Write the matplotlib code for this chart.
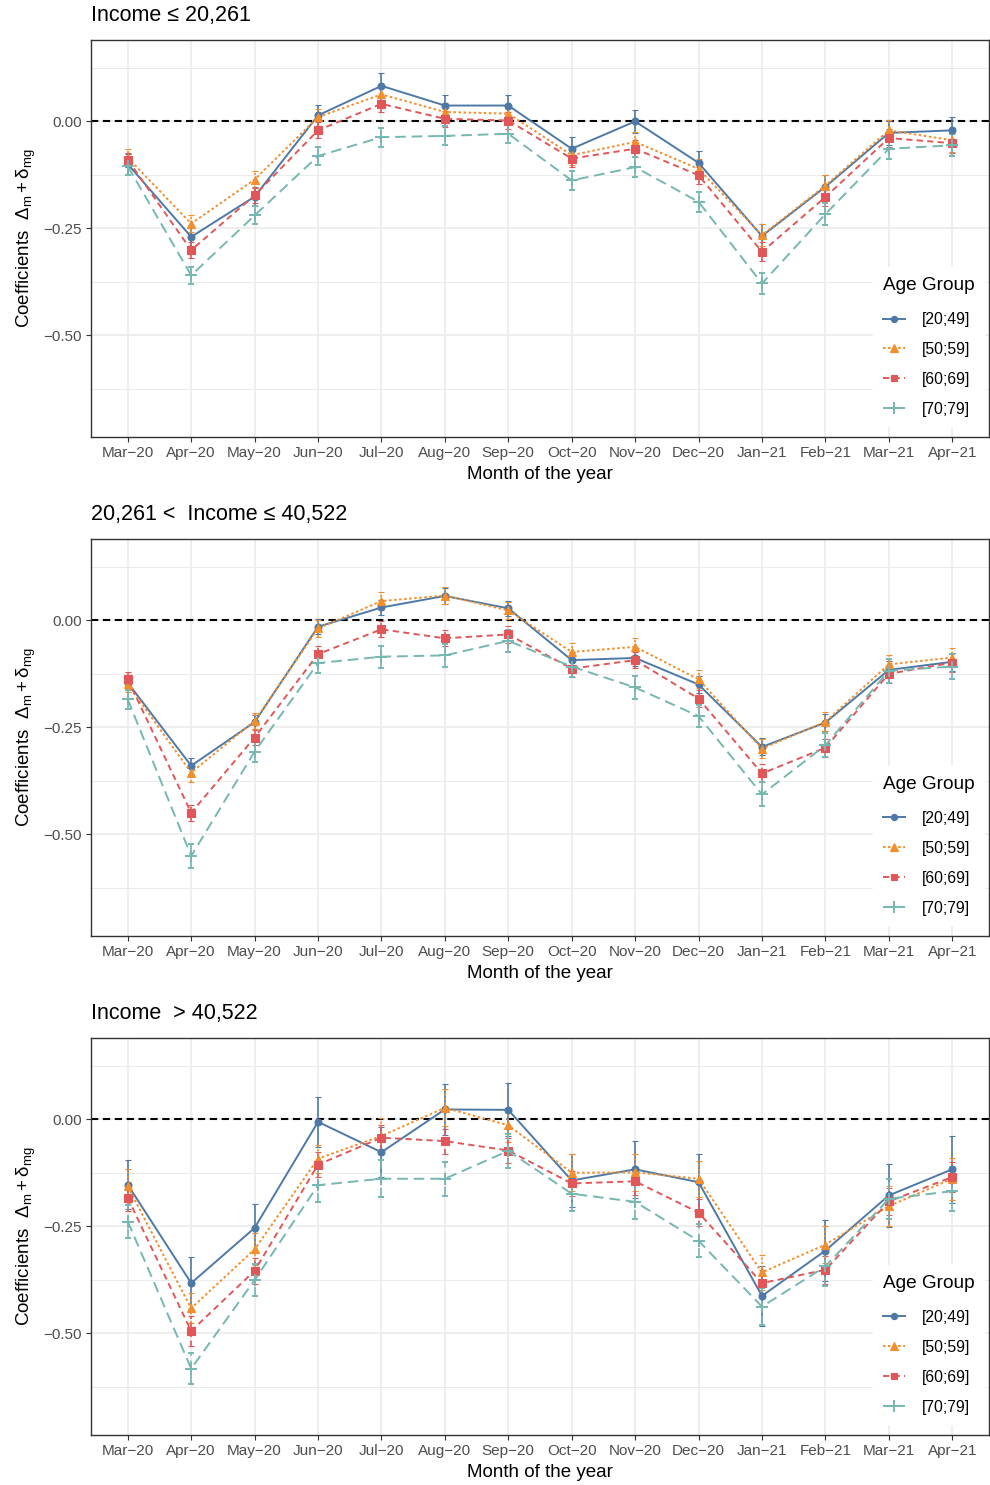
import numpy as np
import matplotlib
matplotlib.use("Agg")
import matplotlib.pyplot as plt
from matplotlib.lines import Line2D
from matplotlib.ticker import FixedLocator

plt.rcParams['font.family'] = ['Liberation Sans', 'DejaVu Sans']
plt.rcParams['mathtext.fontset'] = 'custom'
plt.rcParams['mathtext.rm'] = 'Liberation Sans'
plt.rcParams['mathtext.it'] = 'Liberation Sans:italic'
plt.rcParams['mathtext.bf'] = 'Liberation Sans:bold'

months = ['Mar\u221220', 'Apr\u221220', 'May\u221220', 'Jun\u221220', 'Jul\u221220', 'Aug\u221220',
          'Sep\u221220', 'Oct\u221220', 'Nov\u221220', 'Dec\u221220', 'Jan\u221221', 'Feb\u221221',
          'Mar\u221221', 'Apr\u221221']
groups = ['[20;49]', '[50;59]', '[60;69]', '[70;79]']
titles = ['Income \u2264 20,261', '20,261 <  Income \u2264 40,522', 'Income  > 40,522']

# panel 1: income <= 20,261
p1_a2049 = [-0.100, -0.270, -0.176, 0.014, 0.083, 0.037, 0.037, -0.064, 0.000, -0.097, -0.268, -0.153, -0.027, -0.021]
p1_a5059 = [-0.085, -0.239, -0.136, 0.010, 0.063, 0.022, 0.018, -0.079, -0.048, -0.111, -0.266, -0.150, -0.021, -0.044]
p1_a6069 = [-0.090, -0.301, -0.173, -0.021, 0.041, 0.006, 0.002, -0.087, -0.064, -0.126, -0.305, -0.177, -0.039, -0.051]
p1_a7079 = [-0.105, -0.360, -0.220, -0.081, -0.037, -0.034, -0.029, -0.138, -0.107, -0.188, -0.379, -0.217, -0.064, -0.056]
p1_e2049 = [0.023, 0.022, 0.022, 0.024, 0.029, 0.025, 0.025, 0.027, 0.027, 0.028, 0.029, 0.027, 0.029, 0.031]
p1_e5059 = [0.020, 0.020, 0.020, 0.020, 0.020, 0.020, 0.020, 0.022, 0.022, 0.022, 0.025, 0.025, 0.025, 0.028]
p1_e6069 = [0.016, 0.019, 0.018, 0.019, 0.019, 0.019, 0.019, 0.020, 0.020, 0.020, 0.022, 0.022, 0.022, 0.024]
p1_e7079 = [0.020, 0.020, 0.021, 0.021, 0.022, 0.022, 0.022, 0.023, 0.023, 0.024, 0.025, 0.025, 0.025, 0.026]

# panel 2: 20,261 < income <= 40,522
p2_a2049 = [-0.146, -0.340, -0.238, -0.015, 0.030, 0.057, 0.028, -0.093, -0.088, -0.150, -0.296, -0.239, -0.116, -0.097]
p2_a5059 = [-0.150, -0.356, -0.235, -0.019, 0.045, 0.058, 0.023, -0.074, -0.062, -0.138, -0.300, -0.237, -0.103, -0.087]
p2_a6069 = [-0.138, -0.450, -0.274, -0.079, -0.021, -0.042, -0.033, -0.113, -0.093, -0.183, -0.358, -0.298, -0.125, -0.099]
p2_a7079 = [-0.185, -0.551, -0.307, -0.100, -0.085, -0.082, -0.048, -0.108, -0.157, -0.224, -0.407, -0.292, -0.118, -0.108]
p2_e2049 = [0.017, 0.019, 0.017, 0.017, 0.018, 0.018, 0.018, 0.018, 0.018, 0.019, 0.020, 0.020, 0.020, 0.021]
p2_e5059 = [0.018, 0.022, 0.019, 0.019, 0.021, 0.020, 0.020, 0.020, 0.020, 0.021, 0.022, 0.022, 0.022, 0.023]
p2_e6069 = [0.017, 0.019, 0.018, 0.018, 0.019, 0.019, 0.019, 0.019, 0.019, 0.020, 0.021, 0.021, 0.021, 0.022]
p2_e7079 = [0.023, 0.027, 0.024, 0.024, 0.026, 0.026, 0.025, 0.025, 0.026, 0.026, 0.028, 0.028, 0.028, 0.030]

# panel 3: income > 40,522
p3_a2049 = [-0.153, -0.383, -0.254, -0.006, -0.077, 0.023, 0.022, -0.143, -0.117, -0.147, -0.413, -0.307, -0.178, -0.117]
p3_a5059 = [-0.157, -0.442, -0.304, -0.092, -0.039, 0.027, -0.014, -0.125, -0.124, -0.139, -0.358, -0.293, -0.203, -0.139]
p3_a6069 = [-0.184, -0.495, -0.354, -0.106, -0.043, -0.051, -0.073, -0.150, -0.145, -0.218, -0.383, -0.352, -0.192, -0.135]
p3_a7079 = [-0.239, -0.583, -0.376, -0.154, -0.139, -0.139, -0.074, -0.174, -0.193, -0.284, -0.438, -0.344, -0.186, -0.168]
p3_e2049 = [0.057, 0.061, 0.057, 0.059, 0.059, 0.060, 0.062, 0.061, 0.066, 0.065, 0.070, 0.072, 0.074, 0.078]
p3_e5059 = [0.040, 0.035, 0.037, 0.033, 0.041, 0.043, 0.040, 0.043, 0.043, 0.042, 0.041, 0.043, 0.046, 0.049]
p3_e6069 = [0.030, 0.034, 0.030, 0.030, 0.029, 0.029, 0.030, 0.030, 0.031, 0.031, 0.030, 0.032, 0.032, 0.034]
p3_e7079 = [0.038, 0.037, 0.037, 0.040, 0.043, 0.040, 0.040, 0.040, 0.040, 0.039, 0.043, 0.045, 0.046, 0.047]

panels = [
    ([p1_a2049, p1_a5059, p1_a6069, p1_a7079], [p1_e2049, p1_e5059, p1_e6069, p1_e7079]),
    ([p2_a2049, p2_a5059, p2_a6069, p2_a7079], [p2_e2049, p2_e5059, p2_e6069, p2_e7079]),
    ([p3_a2049, p3_a5059, p3_a6069, p3_a7079], [p3_e2049, p3_e5059, p3_e6069, p3_e7079]),
]

colors = ['#4E79A7', '#F28E2B', '#E15759', '#76B7B2']
styles = ['-', (0, (1.3, 1.3)), (0, (3.2, 2.2)), (0, (5.5, 3.0))]
markers = ['o', '^', 's', '+']
msizes = [5, 6, 5.5, 9]

fig = plt.figure(figsize=(9.9, 14.85), dpi=100)
bottoms = [0.7057, 0.3697, 0.0337]
x = np.arange(len(months))
lw = 1.4

for (vals, errs), b, title in zip(panels, bottoms, titles):
    ax = fig.add_axes([0.0919, b, 0.9071, 0.2673])
    ax.set_xlim(-0.58, 13.58)
    ax.set_ylim(-0.738, 0.19)

    ax.yaxis.set_major_locator(FixedLocator([-0.5, -0.25, 0.0]))
    ax.yaxis.set_minor_locator(FixedLocator([-0.625, -0.375, -0.125, 0.125]))
    ax.set_yticklabels(['\u22120.50', '\u22120.25', '0.00'])
    ax.set_xticks(x)
    ax.set_xticklabels(months)
    ax.grid(True, which='major', color='#EBEBEB', lw=1.2)
    ax.grid(True, which='minor', axis='y', color='#EBEBEB', lw=0.7)
    ax.set_axisbelow(True)
    ax.tick_params(which='minor', length=0)
    ax.tick_params(which='major', length=3.5, width=0.8, color='#333333',
                   labelcolor='#4D4D4D', labelsize=11, pad=3)
    for s in ax.spines.values():
        s.set_color('#333333')
        s.set_linewidth(1.0)

    ax.axhline(0, color='black', lw=1.5, ls=(0, (3.5, 2.2)), zorder=1.5)

    for v, e, c, ls, m, ms in zip(vals, errs, colors, styles, markers, msizes):
        eb = ax.errorbar(x, v, yerr=e, color=c, ls=ls, lw=lw, marker=m, ms=ms,
                         mew=1.4 if m == '+' else 0.8, capsize=2.5, capthick=1.2,
                         elinewidth=1.2, zorder=3)
        eb[2][0].set_linestyle(ls)

    ax.set_title(title, loc='left', fontsize=15.5, pad=13.5)
    ax.set_xlabel('Month of the year', fontsize=13.5, labelpad=4.5)
    ax.set_ylabel(r'Coefficients  $\mathrm{\Delta_{m} + \delta_{mg}}$', fontsize=13.5, labelpad=4)

    handles = [Line2D([], [], color=c, ls=ls, lw=lw, marker=m, ms=ms * 0.9,
                      mew=1.4 if m == '+' else 0.8)
               for c, ls, m, ms in zip(colors, styles, markers, msizes)]
    leg = ax.legend(handles, groups, title='Age Group', loc='lower right',
                    bbox_to_anchor=(1.003, 0.0076), fontsize=11.3, title_fontsize=13.7,
                    frameon=True, fancybox=False, edgecolor='white', framealpha=1,
                    handlelength=1.4, labelspacing=0.95, borderpad=0.6,
                    alignment='left', handletextpad=1.1)
    # a little more room between the legend title and the keys
    leg._legend_box.sep = 0.95 * 11.3 + 2.5

fig.savefig('out.png', dpi=100)
